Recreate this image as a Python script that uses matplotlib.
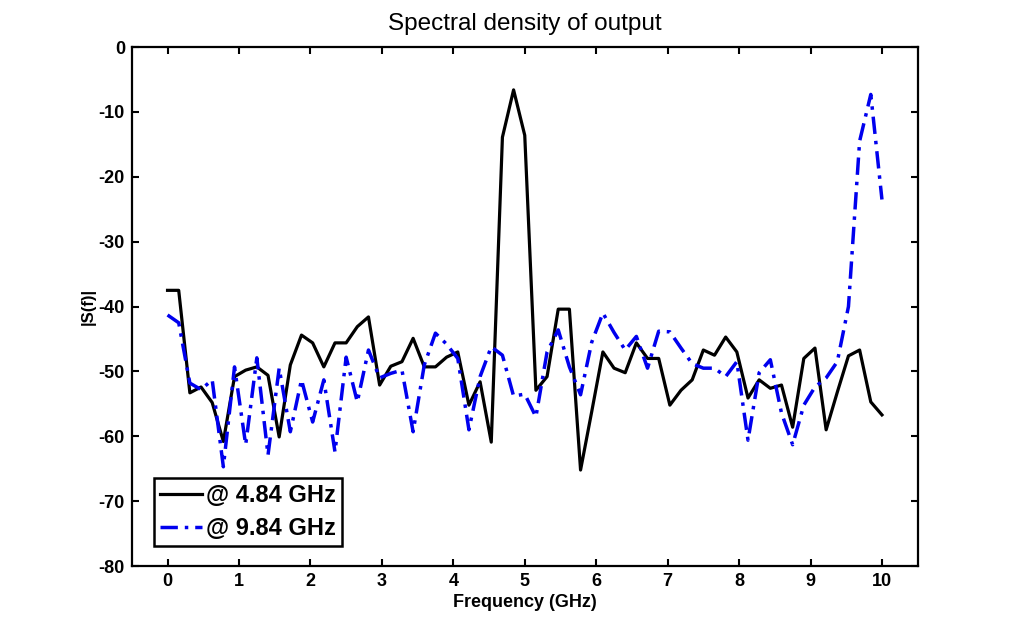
import numpy as np
import matplotlib
matplotlib.use('Agg')
import matplotlib.pyplot as plt

plt.rcParams['font.family'] = ['Liberation Sans', 'DejaVu Sans']
plt.rcParams['axes.unicode_minus'] = False

# frequency grid: 65 samples, 0 .. 10 GHz
freq = np.arange(65) * 10 / 64

s_484 = [-37.5, -37.5, -53.3, -52.4, -54.8, -60.8, -50.8, -49.8, -49.3, -50.6,
         -60.1, -49.0, -44.4, -45.6, -49.3, -45.6, -45.6, -43.1, -41.6, -52.1,
         -49.2, -48.5, -44.9, -49.3, -49.3, -47.8, -47.0, -55.2, -51.6, -60.9,
         -13.9, -6.6, -13.6, -52.9, -50.8, -40.4, -40.4, -65.2, -56.2, -47.0,
         -49.5, -50.2, -45.6, -48.0, -48.0, -55.2, -52.9, -51.3, -46.7, -47.5,
         -44.7, -47.0, -54.1, -51.3, -52.6, -52.1, -58.6, -48.0, -46.4, -59.0,
         -53.2, -47.6, -46.7, -54.7, -56.7]

s_984 = [-41.3, -42.5, -51.8, -52.8, -51.3, -64.7, -49.3, -61.3, -47.9, -62.9,
         -49.5, -59.3, -51.3, -57.8, -51.3, -62.4, -47.8, -54.7, -46.7, -51.0,
         -50.3, -49.8, -59.3, -49.0, -44.1, -45.8, -48.0, -59.0, -50.8, -46.2,
         -47.5, -53.8, -53.5, -57.0, -47.0, -43.6, -49.3, -53.6, -45.5, -41.0,
         -44.0, -46.7, -44.6, -49.5, -43.8, -43.9, -46.4, -48.8, -49.5, -49.5,
         -50.8, -48.5, -60.6, -50.2, -48.2, -56.4, -61.3, -55.2, -52.4, -51.0,
         -48.5, -40.0, -14.5, -7.3, -23.5]

xticks = list(range(0, 11))
yticks = list(range(-80, 1, 10))

fig = plt.figure(figsize=(10.14, 6.36), dpi=100)
ax = fig.add_axes([0.130, 0.110, 0.775, 0.816])

ax.plot(freq, s_484, color='black', linewidth=2.3, label='@ 4.84 GHz')
ax.plot(freq, s_984, color='#0000ee', linewidth=2.5,
        linestyle=(0, (5, 2, 1, 2)), label='@ 9.84 GHz')

ax.set_xlim(-0.5, 10.5)
ax.set_ylim(-80, 0)
ax.set_xticks(xticks)
ax.set_yticks(yticks)
ax.tick_params(direction='in', length=5, width=1.5, top=True, right=True,
               labelsize=13, pad=5)
for lbl in ax.get_xticklabels() + ax.get_yticklabels():
    lbl.set_fontweight('bold')
for sp in ax.spines.values():
    sp.set_linewidth(1.6)

ax.set_title('Spectral density of output', fontsize=17.5, pad=12)
ax.set_xlabel('Frequency (GHz)', fontsize=13, fontweight='bold', labelpad=3)
ax.set_ylabel('|S(f)|', fontsize=12, fontweight='bold', labelpad=2)

leg = ax.legend(loc='lower left', bbox_to_anchor=(0.028, 0.0385),
                borderaxespad=0,
                prop={'size': 17, 'weight': 'bold'}, handlelength=1.8,
                handletextpad=0.15, borderpad=0.25, labelspacing=0.42,
                fancybox=False, framealpha=1)
leg.get_frame().set_edgecolor('black')
leg.get_frame().set_linewidth(1.8)

fig.savefig('out.png', dpi=100)
